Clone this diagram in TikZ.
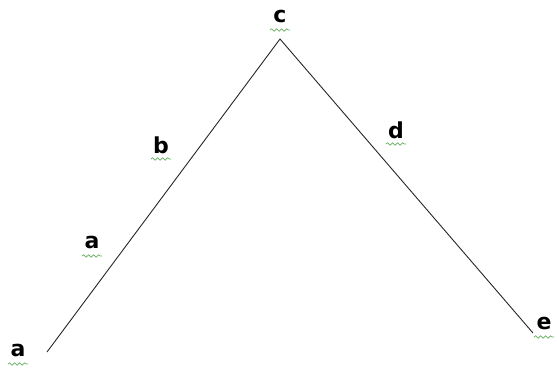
\documentclass[tikz,border=0pt]{standalone}
\usepackage{fontspec}
\setmainfont{DejaVu Sans}
\usetikzlibrary{decorations.pathmorphing}
\definecolor{sq}{RGB}{100,175,95}
\tikzset{
  lbl/.style={font=\bfseries\fontsize{22}{24}\selectfont, inner sep=0pt, text=black},
  squig/.style={draw=sq, line width=0.7pt, decorate, decoration={snake, amplitude=1.2pt, segment length=5pt}},
  edge/.style={draw=black!85, line width=0.9pt}
}
\begin{document}
\begin{tikzpicture}[x=1pt,y=-1pt]
\useasboundingbox (0,0) rectangle (557,369);
\coordinate (A) at (47,352);
\coordinate (C) at (280,39);
\coordinate (E) at (533,333);
\draw[edge] (A) -- (C) -- (E);
\node[lbl] (la) at (18,350) {a};
\node[lbl] (la2) at (92,242) {a};
\node[lbl] (lb) at (161,145) {b};
\node[lbl] (lc) at (280,16) {c};
\node[lbl] (ld) at (396,130) {d};
\node[lbl] (le) at (544,323) {e};
\foreach \n in {la,la2,lb,lc,ld,le} {
  \path[squig] ([xshift=-10pt,yshift=-14pt]\n.center) -- ([xshift=10pt,yshift=-14pt]\n.center);
}
\end{tikzpicture}
\end{document}
